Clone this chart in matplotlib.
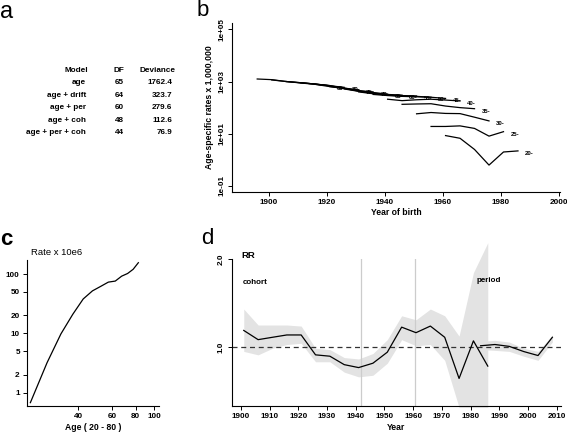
import matplotlib
matplotlib.use("Agg")
import matplotlib.pyplot as plt
import matplotlib.ticker as mticker
import numpy as np

plt.rcParams['font.family'] = ['Liberation Sans', 'DejaVu Sans']

# ---------------- Panel a: model table ----------------
models = ["age", "age + drift", "age + per", "age + coh", "age + per + coh"]
model_df = ["65", "64", "60", "48", "44"]
deviance = ["1762.4", "323.7", "279.6", "112.6", "76.9"]

# ---------------- Panel b: age-specific rates by birth cohort ----------------
age_groups = ["85-", "80-", "75-", "70-", "65-", "60-", "55-", "50-", "45-",
              "40-", "35-", "30-", "25-", "20-"]
periods = [1981, 1986, 1991, 1996, 2001, 2006]
age_lower = [85, 80, 75, 70, 65, 60, 55, 50, 45, 40, 35, 30, 25, 20]
rates_b = [
    [1250, 1180, 1000, 900, 800, 700],
    [1150, 1000, 880, 780, 690, 600],
    [1000, 900, 800, 700, 560, 480],
    [900, 800, 680, 560, 450, 400],
    [780, 640, 540, 440, 380, 330],
    [640, 540, 430, 360, 320, 300],
    [520, 420, 350, 310, 290, 280],
    [400, 340, 300, 280, 270, 250],
    [320, 290, 270, 260, 250, 225],
    [210, 185, 200, 210, 195, 180],
    [134, 138, 141, 115, 100, 91],
    [58, 65, 60, 59, 43, 31],
    [19, 19, 20, 16, 8.1, 12],
    [8.5, 6.7, 2.5, 0.63, 2.0, 2.2],
]

# ---------------- Panel c: age effect ----------------
ages_c = [22.5, 27.5, 32.5, 37.5, 42.5, 47.5, 52.5, 57.5, 62.5, 67.5, 72.5, 77.5, 82.5]
rate_c = [0.68, 3.2, 9.8, 21, 38, 52, 62, 73, 76, 92, 102, 120, 155]

# ---------------- Panel d: cohort and period RR ----------------
cohort_years = [1901, 1906, 1911, 1916, 1921, 1926, 1931, 1936, 1941, 1946,
                1951, 1956, 1961, 1966, 1971, 1976, 1981, 1986]
cohort_rr = [1.14, 1.06, 1.08, 1.10, 1.10, 0.94, 0.93, 0.87, 0.85, 0.88,
             0.96, 1.17, 1.12, 1.18, 1.08, 0.78, 1.05, 0.86]
cohort_hi = [1.35, 1.19, 1.19, 1.19, 1.18, 0.99, 0.98, 0.92, 0.91, 0.95,
             1.06, 1.28, 1.24, 1.35, 1.28, 1.09, 1.80, 2.28]
cohort_lo = [0.966, 0.94, 0.99, 1.02, 1.03, 0.89, 0.89, 0.82, 0.79, 0.80,
             0.88, 1.06, 1.01, 1.02, 0.90, 0.62, 0.62, 0.62]
period_years = [1983.5, 1988.5, 1993.5, 1998.5, 2003.5, 2008.5]
period_rr = [1.01, 1.02, 1.005, 0.965, 0.935, 1.08]
period_hi = [1.046, 1.054, 1.04, 0.99, 0.966, 1.10]
period_lo = [0.98, 0.974, 0.966, 0.93, 0.90, 1.04]
ref_lines = [1942, 1960.6]

W, H = 567, 434
fig = plt.figure(figsize=(W / 100, H / 100), dpi=100)

def fx(px):
    return px / W

def fy(py):
    return 1 - py / H

def ax_rect(l, t, r, b):
    return [fx(l), fy(b), fx(r) - fx(l), fy(t) - fy(b)]

tick_fs = 5.9
lab_fs = 6.2
tw = 'bold'

def lbox(ax):
    for s in ['top', 'right']:
        ax.spines[s].set_visible(False)
    for s in ['left', 'bottom']:
        ax.spines[s].set_linewidth(0.8)
    ax.tick_params(direction='out', length=3, width=0.7, labelsize=tick_fs, pad=2)
    for lab in ax.get_xticklabels() + ax.get_yticklabels():
        lab.set_fontweight(tw)

# Panel letters
fig.text(fx(0), fy(1), "a", fontsize=17, va='top', ha='left')
fig.text(fx(197), fy(0), "b", fontsize=16, va='top', ha='left')
fig.text(fx(0), fy(229), "c", fontsize=16, va='top', ha='left', fontweight='bold')
fig.text(fx(201), fy(228), "d", fontsize=16, va='top', ha='left')

# ---- Panel a table ----
afs = 5.9
row_y = [82.3, 95.3, 107.7, 120.7, 133.0]
fig.text(fx(88), fy(70), "Model", fontsize=afs, ha='right', va='center', fontweight=tw)
fig.text(fx(124), fy(70), "DF", fontsize=afs, ha='right', va='center', fontweight=tw)
fig.text(fx(176), fy(70), "Deviance", fontsize=afs, ha='right', va='center', fontweight=tw)
for i in range(len(models)):
    fig.text(fx(86), fy(row_y[i]), models[i], fontsize=afs, ha='right', va='center', fontweight=tw)
    fig.text(fx(124), fy(row_y[i]), model_df[i], fontsize=afs, ha='right', va='center', fontweight=tw)
    fig.text(fx(172), fy(row_y[i]), deviance[i], fontsize=afs, ha='right', va='center', fontweight=tw)

# ---- Panel b ----
axb = fig.add_axes(ax_rect(232, 23.3, 560, 191.7))
for i, g in enumerate(age_groups):
    xs = [p - age_lower[i] for p in periods]
    axb.plot(xs, rates_b[i], color='black', lw=0.9)
    axb.text(xs[-1] + 4, rates_b[i][-1] * 0.8, g, fontsize=4.3, fontweight='bold',
             ha='center', va='center')
axb.set_yscale('log')
axb.set_xlim(1887.3, 2000.5)
axb.set_ylim(10 ** -1.22, 10 ** 5.23)
axb.set_xticks([1900, 1920, 1940, 1960, 1980, 2000])
axb.set_yticks([1e-1, 1e1, 1e3, 1e5])
axb.set_yticklabels(["1e-01", "1e+01", "1e+03", "1e+05"], rotation=90, va='center')
axb.yaxis.set_minor_locator(mticker.NullLocator())
lbox(axb)
axb.set_xlabel("Year of birth", fontsize=lab_fs, fontweight=tw, labelpad=2)
axb.set_ylabel("Age-specific rates x 1,000,000", fontsize=lab_fs, fontweight=tw, labelpad=3)

# ---- Panel c ----
axc = fig.add_axes(ax_rect(26.7, 260, 159.3, 406))
axc.plot(ages_c, rate_c, color='black', lw=0.9)
axc.set_xscale('log')
axc.set_yscale('log')
axc.set_xlim(10 ** 1.333, 10 ** 2.026)
axc.set_ylim(10 ** -0.224, 10 ** 2.236)
axc.xaxis.set_minor_locator(mticker.NullLocator())
axc.yaxis.set_minor_locator(mticker.NullLocator())
axc.set_xticks([40, 60, 80, 100])
axc.set_xticklabels(["40", "60", "80", "100"])
axc.set_yticks([1, 2, 5, 10, 20, 50, 100])
axc.set_yticklabels(["1", "2", "5", "10", "20", "50", "100"])
lbox(axc)
axc.set_xlabel("Age ( 20 - 80 )", fontsize=lab_fs, fontweight=tw, labelpad=2)
fig.text(fx(31), fy(252.5), "Rate x 10e6", fontsize=6.8, ha='left', va='center')

# ---- Panel d ----
axd = fig.add_axes(ax_rect(231.7, 259.3, 560.7, 406))
axd.set_yscale('log')
axd.set_xlim(1896.8, 2011.4)
axd.set_ylim(10 ** -0.2024, 2.0)
axd.fill_between(cohort_years, cohort_lo, cohort_hi, color='#e3e3e3', lw=0, clip_on=False)
axd.fill_between(period_years, period_lo, period_hi, color='#e3e3e3', lw=0)
for xv in ref_lines:
    axd.axvline(xv, color='#cccccc', lw=0.9)
axd.axhline(1.0, color='#333333', lw=0.9, ls=(0, (4, 3)))
axd.plot(cohort_years, cohort_rr, color='black', lw=0.9)
axd.plot(period_years, period_rr, color='black', lw=0.9)
axd.yaxis.set_minor_locator(mticker.NullLocator())
axd.set_yticks([1.0, 2.0])
axd.set_yticklabels(["1.0", "2.0"], rotation=90, va='center')
axd.set_xticks(list(range(1900, 2011, 10)))
lbox(axd)
axd.set_xlabel("Year", fontsize=lab_fs, fontweight=tw, labelpad=2)
fig.text(fx(241.7), fy(255), "RR", fontsize=6.8, ha='left', va='center', fontweight=tw)
axd.text(1900.8, 1.66, "cohort", fontsize=5.8, ha='left', va='center', fontweight=tw)
axd.text(1982.0, 1.69, "period", fontsize=5.8, ha='left', va='center', fontweight=tw)

fig.savefig("out.png", dpi=100)
